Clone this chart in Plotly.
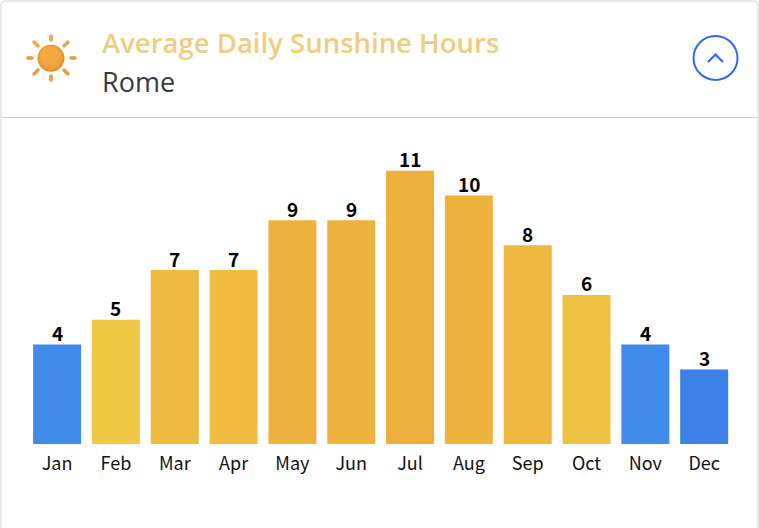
import plotly.graph_objects as go

W, H = 759, 528

# Sunshine hours for Rome
months = ["Jan", "Feb", "Mar", "Apr", "May", "Jun", "Jul", "Aug", "Sep", "Oct", "Nov", "Dec"]
hours = [4, 5, 7, 7, 9, 9, 11, 10, 8, 6, 4, 3]
bar_colors = ["#3F8CE9", "#F0C945", "#EFBA40", "#EFBC40", "#EEB13D", "#EEB23D",
              "#EEAF3C", "#EEB23D", "#EFB83E", "#EFC142", "#3F8CE9", "#3D80E6"]


def px(x):
    return x / W


def py(y):
    return 1 - y / H


fig = go.Figure(go.Bar(
    x=months,
    y=hours,
    marker_color=bar_colors,
    marker_line_width=0,
    hoverinfo="skip",
))

shapes = []

# card border and header divider
card = (f"M {px(1)} {py(6)} Q {px(1)} {py(1)} {px(6)} {py(1)} L {px(752)} {py(1)} "
        f"Q {px(758)} {py(1)} {px(758)} {py(6)} L {px(758)} {py(H + 4)} L {px(1)} {py(H + 4)} Z")
shapes.append(dict(type="path", xref="paper", yref="paper", path=card,
                   line=dict(color="#E2E2E2", width=1.5)))
shapes.append(dict(type="line", xref="paper", yref="paper", x0=px(1), x1=px(758), y0=py(117.5), y1=py(117.5),
                   line=dict(color="#CFCFCF", width=1.2)))

# sun icon: rays with rounded ends
rays = [(51, 36, 51, 40), (51, 76, 51, 80), (28, 58, 32, 58), (71, 58, 75, 58),
        (34, 42, 38, 46), (64, 70, 68, 74), (34, 74, 38, 70), (64, 46, 68, 42)]
for x0, y0, x1, y1 in rays:
    ray_color = "#F0A845" if y0 < 58 else "#EC9C38"
    shapes.append(dict(type="line", xref="paper", yref="paper", x0=px(x0), x1=px(x1), y0=py(y0), y1=py(y1),
                       line=dict(color=ray_color, width=3.6)))
    for cx, cy in ((x0, y0), (x1, y1)):
        shapes.append(dict(type="circle", xref="paper", yref="paper",
                           x0=px(cx - 1.8), x1=px(cx + 1.8), y0=py(cy - 1.8), y1=py(cy + 1.8),
                           fillcolor=ray_color, line_width=0))

# sun disc, stacked circles standing in for the gradient
for r, dx, color in [(13.5, 0, "#E28F2E"), (12.6, -0.6, "#E99834"), (11.4, -1.2, "#EFA03A"), (9.8, -2, "#F3A73F")]:
    shapes.append(dict(type="circle", xref="paper", yref="paper",
                       x0=px(51 + dx / 2 - r), x1=px(51 + dx / 2 + r),
                       y0=py(58.3 + dx - r), y1=py(58.3 + dx + r),
                       fillcolor=color, line_width=0))

# collapse button
shapes.append(dict(type="circle", xref="paper", yref="paper", x0=px(693.5), x1=px(737.5), y0=py(36), y1=py(80),
                   fillcolor="rgba(0,0,0,0)", line=dict(color="#2F6BF0", width=2)))
shapes.append(dict(type="path", xref="paper", yref="paper",
                   path=f"M {px(708)} {py(62)} L {px(715.5)} {py(54.5)} L {px(723)} {py(62)}",
                   line=dict(color="#2F6BF0", width=2.2)))

annotations = [
    dict(xref="paper", yref="paper", x=px(100), y=py(42), xanchor="left", yanchor="middle",
         text="Average Daily Sunshine Hours", showarrow=False,
         font=dict(family="Open Sans", size=27.5, color="#F0CC7E", weight=600)),
    dict(xref="paper", yref="paper", x=px(100), y=py(81), xanchor="left", yanchor="middle",
         text="Rome", showarrow=False,
         font=dict(family="Open Sans", size=27, color="#333A44")),
]

# value labels sit tight on the bars
for month, value in zip(months, hours):
    annotations.append(dict(xref="x", yref="y", x=month, y=value, text=str(value), showarrow=False,
                            xanchor="center", yanchor="bottom", yshift=-3.5,
                            font=dict(family="Noto Sans CJK SC", size=19, color="#000000", weight=700)))

fig.update_layout(
    width=W,
    height=H,
    margin=dict(l=0, r=0, t=0, b=0),
    paper_bgcolor="#FFFFFF",
    plot_bgcolor="#FFFFFF",
    showlegend=False,
    bargap=0.184,
    shapes=shapes,
    annotations=annotations,
    xaxis=dict(domain=[px(27.7), px(733.6)], showgrid=False, zeroline=False, showline=False, ticks="",
               ticklabelstandoff=7,
               tickfont=dict(family="Noto Sans CJK SC", size=18, color="#111111"), fixedrange=True),
    yaxis=dict(domain=[py(444), py(124)], range=[0, 320 / 24.85], visible=False, fixedrange=True),
)

fig.write_html("out.html", config=dict(displayModeBar=False),
               post_script="document.body.style.margin='0';document.body.style.overflow='hidden';")
